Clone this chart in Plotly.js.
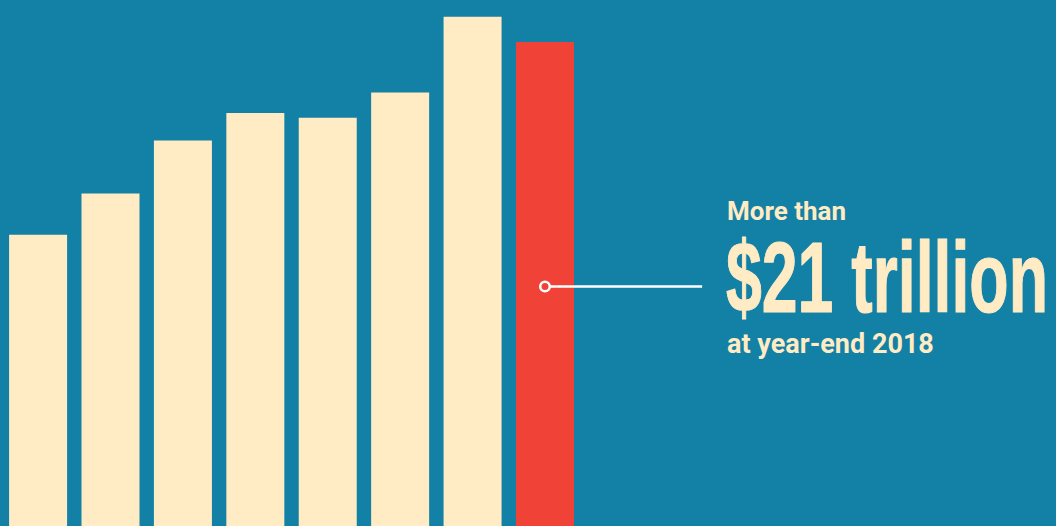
<!DOCTYPE html>
<html>
<head>
<meta charset="utf-8">
<script src="https://cdn.plot.ly/plotly-3.0.1.min.js"></script>
<style>
  html, body { margin: 0; padding: 0; background: #1380A5; overflow: hidden; }
  #chart { width: 1056px; height: 526px; }
</style>
</head>
<body>
<div id="chart"></div>
<script>
// Data (trillions of dollars, year-end)
const years = [2011, 2012, 2013, 2014, 2015, 2016, 2017, 2018];
const assets = [12.7, 14.5, 16.8, 18.0, 17.8, 18.9, 22.2, 21.1];
const highlightYear = 2018;

const BG = '#1380A5';
const CREAM = '#FFEBC4';
const RED = '#F04236';

const barColors = years.map(y => y === highlightYear ? RED : CREAM);
const lastVal = assets[assets.length - 1];
const calloutY = lastVal * 0.495;

const traces = [
  {
    type: 'bar',
    x: years,
    y: assets,
    marker: { color: barColors, line: { width: 0 } },
    hoverinfo: 'skip'
  },
  {
    type: 'scatter',
    mode: 'lines',
    x: [highlightYear, 2020.17],
    y: [calloutY, calloutY],
    line: { color: '#FFFFFF', width: 2.5 },
    hoverinfo: 'skip'
  },
  {
    type: 'scatter',
    mode: 'markers',
    x: [highlightYear],
    y: [calloutY],
    marker: { size: 9.5, color: RED, line: { color: '#FFFFFF', width: 2.5 } },
    hoverinfo: 'skip'
  }
];

const layout = {
  width: 1056,
  height: 526,
  margin: { l: 0, r: 0, t: 0, b: 0, pad: 0 },
  paper_bgcolor: BG,
  plot_bgcolor: BG,
  showlegend: false,
  bargap: 0.199,
  xaxis: { range: [2011 - 0.526, 2011 + 14.057], visible: false, fixedrange: true },
  yaxis: { range: [0, 22.93], visible: false, fixedrange: true },
  annotations: [
    {
      xref: 'paper', yref: 'paper', x: 725 / 1056, y: 1 - 211 / 526,
      xanchor: 'left', yanchor: 'middle', showarrow: false,
      text: '<b>More than</b>',
      font: { family: 'Roboto, sans-serif', size: 26, color: CREAM }
    },
    {
      xref: 'paper', yref: 'paper', x: 724 / 1056, y: 1 - 277 / 526,
      xanchor: 'left', yanchor: 'middle', showarrow: false,
      text: '<b>$21 trillion</b>',
      font: { family: '"Liberation Sans Narrow", sans-serif', size: 100, color: CREAM }
    },
    {
      xref: 'paper', yref: 'paper', x: 725 / 1056, y: 1 - 344 / 526,
      xanchor: 'left', yanchor: 'middle', showarrow: false,
      text: '<b>at year-end 2018</b>',
      font: { family: 'Roboto, sans-serif', size: 27, color: CREAM }
    }
  ]
};

function condenseBigText() {
  document.querySelectorAll('text.annotation-text').forEach(t => {
    if (t.textContent.indexOf('trillion') >= 0) {
      t.removeAttribute('transform');
      const bb = t.getBBox();
      const targetWidth = 322;
      const s = Math.min(1, targetWidth / bb.width);
      const x0 = bb.x;
      t.setAttribute('transform', 'translate(' + (x0 * (1 - s)) + ',0) scale(' + s + ',1)');
      t.style.stroke = CREAM;
      t.style.strokeWidth = '1.2px';
      t.style.strokeLinejoin = 'round';
    }
  });
}

Plotly.newPlot('chart', traces, layout, { displayModeBar: false, staticPlot: true });
condenseBigText();
</script>
</body>
</html>
